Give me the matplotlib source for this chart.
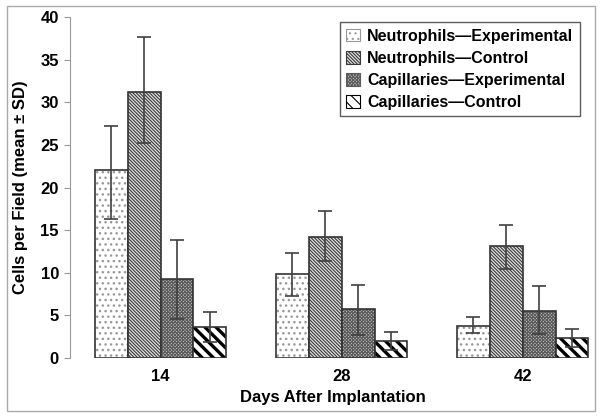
import matplotlib.pyplot as plt
import numpy as np
from matplotlib.patches import Rectangle, Patch

plt.rcParams['font.family'] = ['Liberation Sans', 'DejaVu Sans']
plt.rcParams['font.weight'] = 'bold'

days = ['14', '28', '42']
series = ['Neutrophils\u2014Experimental', 'Neutrophils\u2014Control',
          'Capillaries\u2014Experimental', 'Capillaries\u2014Control']
means = [[22.0, 9.9, 3.8],
         [31.2, 14.2, 13.1],
         [9.3, 5.7, 5.5],
         [3.6, 2.0, 2.3]]
err_low = [[16.3, 7.3, 2.9],
           [25.2, 11.4, 10.4],
           [4.6, 2.7, 2.8],
           [1.9, 0.9, 1.3]]
err_high = [[27.2, 12.3, 4.8],
            [37.6, 17.2, 15.6],
            [13.9, 8.6, 8.4],
            [5.4, 3.1, 3.4]]

hatches = ['...', '\\' * 10, 'x' * 10, '\\\\\\']
faces = ['white', '#e0e0e0', '#c4c4c4', 'white']
hcolors = ['#999999', '#3a3a3a', '#5a5a5a', 'black']
hwidths = [1.0, 0.8, 0.8, 2.4]

fig = plt.figure(figsize=(6.02, 4.18), dpi=100)
ax = fig.add_axes([70 / 602, 60 / 418, 525 / 602, 341 / 418])

x = np.arange(len(days))
w = 0.182
handles = []
for i in range(4):
    pos = x + (i - 1.5) * w
    plt.rcParams['hatch.linewidth'] = hwidths[i]
    ax.bar(pos, means[i], w, color=faces[i], edgecolor=hcolors[i],
           hatch=hatches[i], linewidth=0)
    ax.bar(pos, means[i], w, fill=False, edgecolor='#333333', linewidth=1.2)
    m = np.array(means[i])
    yerr = [m - np.array(err_low[i]), np.array(err_high[i]) - m]
    ax.errorbar(pos, m, yerr=yerr, fmt='none', ecolor='#404040',
                elinewidth=1.2, capsize=5, capthick=1.2)
    h = Patch(facecolor=faces[i], edgecolor=hcolors[i], hatch=hatches[i],
              linewidth=0.8, label=series[i])
    handles.append(h)

ax.set_xlim(-0.5, 2.4)
ax.set_ylim(0, 40)
ax.set_yticks(range(0, 41, 5))
ax.set_xticks(x)
ax.set_xticklabels(days, fontsize=12, fontweight='bold')
ax.tick_params(axis='x', length=0, pad=8)
ax.tick_params(axis='y', colors='#999999', length=4, labelsize=12,
               labelcolor='black', pad=4)
for s in ['top', 'right', 'bottom']:
    ax.spines[s].set_visible(False)
ax.spines['left'].set_color('#999999')

ax.set_ylabel('Cells per Field (mean \u00b1 SD)', fontsize=12, fontweight='bold', labelpad=9)
ax.set_xlabel('Days After Implantation', fontsize=12, fontweight='bold', labelpad=4)

plt.rcParams['hatch.linewidth'] = 0.8
leg = ax.legend(handles=handles, loc='upper right', bbox_to_anchor=(0.971, 0.985),
                borderaxespad=0, fancybox=False, edgecolor='#333333',
                prop={'size': 11.5, 'weight': 'bold'}, handlelength=0.85,
                handleheight=0.85, handletextpad=0.45, labelspacing=0.45,
                borderpad=0.4)
leg.get_frame().set_linewidth(1.0)

fig.patches.append(Rectangle((7 / 602, 7 / 418), 588 / 602, 405 / 418,
                             transform=fig.transFigure, fill=False,
                             edgecolor='#aaaaaa', linewidth=1.0))

fig.savefig('out.png', dpi=100)
